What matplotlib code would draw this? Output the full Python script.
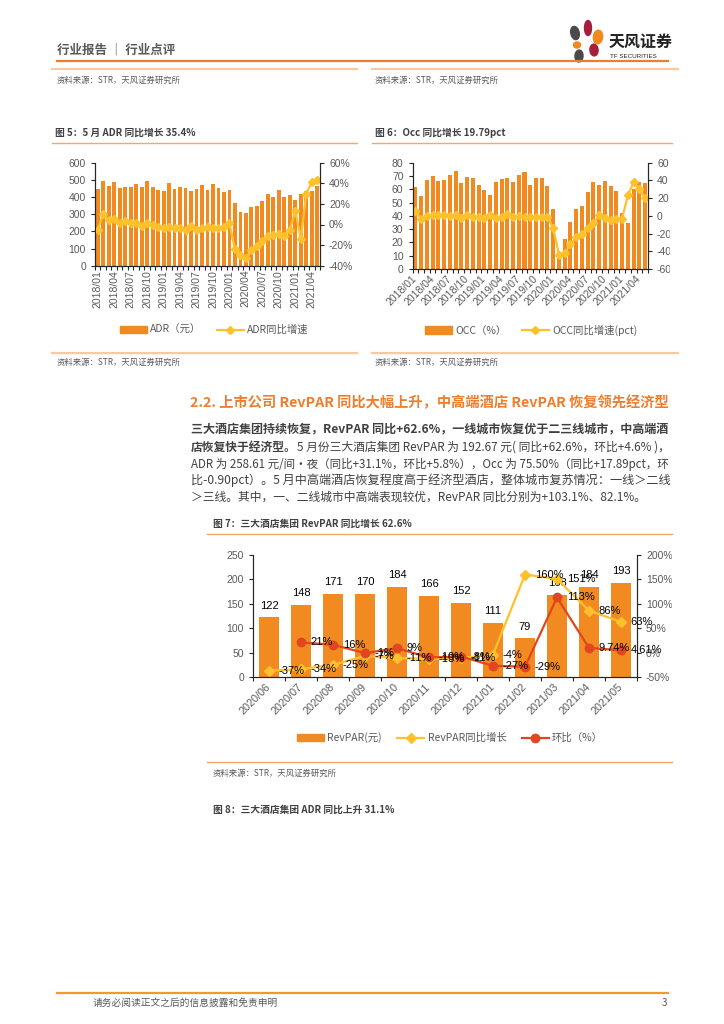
import matplotlib
matplotlib.use('Agg')
import matplotlib.pyplot as plt
import numpy as np
from matplotlib.lines import Line2D
from matplotlib.patches import Rectangle, Ellipse
from matplotlib.ticker import FuncFormatter

plt.rcParams['font.family'] = ['Noto Sans CJK SC', 'DejaVu Sans']
plt.rcParams['axes.unicode_minus'] = False

# ---------------- data ----------------
months = []
for yr in range(2018, 2022):
    for m in range(1, 13):
        if yr == 2021 and m > 5:
            break
        months.append(f'{yr}/{m:02d}')

adr = [447, 493, 464, 485, 454, 456, 456, 474, 456, 491, 460, 439, 435, 481, 447,
       458, 452, 437, 447, 468, 443, 478, 450, 429, 439, 365, 313, 307, 340, 348,
       377, 417, 400, 439, 402, 410, 381, 417, 435, 437, 462]
adr_yoy = [-5, 10, 4, 5, 1, 3, 1, 1.5, -1, 1, 0, -2, -3, -2, -3, -3.5, -5, -1, -5, -3,
           -2, -3, -3, -2, 1, -24, -30, -33, -25, -21, -16, -11, -10, -9, -11, -5,
           13, -14, 30, 41, 43]

occ = [61.7, 54.6, 67.2, 70.0, 66.4, 66.7, 71.0, 73.7, 64.7, 69.0, 68.4, 63.4, 59.1,
       55.6, 65.2, 67.4, 68.2, 65.2, 71.0, 73.2, 62.9, 68.4, 68.2, 62.7, 45.4, 11.0,
       22.6, 35.5, 44.9, 47.6, 57.6, 65.7, 63.2, 66.2, 62.7, 58.6, 42.4, 34.6, 60.5,
       65.2, 64.7]
occ_yoy = [5.5, -4, 0, 1, 0.5, 1, -0.5, 1.3, -2, 0.5, -1, -1, -2.5, 1.3, -2.5, -1, 1.7,
           -1.3, -0.5, -1, -1.3, -1, -1, -1, -14, -44, -42, -32, -24, -20, -14, -8,
           0.5, -2, -5, -4, -3, 23.5, 38, 30, 19.8]

rev_months = ['2020/06', '2020/07', '2020/08', '2020/09', '2020/10', '2020/11',
              '2020/12', '2021/01', '2021/02', '2021/03', '2021/04', '2021/05']
revpar = [122, 148, 171, 170, 184, 166, 152, 111, 79, 168, 184, 193]
revpar_yoy = [-37, -34, -25, -7, -11, -13, -11, -4, 160, 151, 86, 63]
revpar_mom = [np.nan, 21, 16, -1, 9, -10, -8, -27, -29, 113, 9.74, 4.61]

# ---------------- style ----------------
W, H = 724, 1024
ORANGE = '#F28A22'
YELLOW = '#FFC12B'
RED = '#E2461E'
GRAY = '#595959'
TXT = '#404040'
NUM = ['Liberation Sans', 'Noto Sans CJK SC']

fig = plt.figure(figsize=(7.24, 10.24), dpi=100)
renderer = fig.canvas.get_renderer()


def fx(x):
    return x / W


def fy(y):
    return 1 - y / H


def hline(y, x0, x1, color, lw=1.0):
    fig.add_artist(Line2D([fx(x0), fx(x1)], [fy(y), fy(y)], color=color, lw=lw))


def txt(x, y, s, **kw):
    kw.setdefault('va', 'center')
    kw.setdefault('color', TXT)
    return fig.text(fx(x), fy(y), s, **kw)


def px_width(t):
    return t.get_window_extent(renderer).width / fig.dpi / fig.get_figwidth() * W


def text_line(x0, y, parts, size, target=None):
    # parts: list of (string, weight); optionally scaled to fill target width
    items = [txt(x0, y, s, fontsize=size, fontweight=wt) for s, wt in parts]
    if target is not None:
        total = sum(px_width(t) for t in items)
        for t in items:
            t.set_fontsize(size * target / total)
    x = x0
    for t in items:
        t.set_x(fx(x))
        x += px_width(t)
    return items


def box(l, t, r, b):
    return [fx(l), fy(b), fx(r) - fx(l), fy(t) - fy(b)]


def style_axes(ax, axr):
    for a in (ax, axr):
        a.spines['top'].set_visible(False)
        for s in ('left', 'right', 'bottom'):
            a.spines[s].set_color('#262626')
            a.spines[s].set_linewidth(0.8)
        a.tick_params(colors=GRAY, labelsize=7.5, length=3, width=0.8)
        for lab in a.get_yticklabels():
            lab.set_family(NUM)
    ax.tick_params(axis='both', color='#262626')
    axr.tick_params(axis='y', color='#262626')


# ---------------- header ----------------
txt(57, 50, '行业报告 ｜ 行业点评', fontsize=9, fontweight='bold', color=GRAY)
hline(61, 57, 668, '#EE7D2C', 1.6)
for (cx, cy, w, h, ang, c) in [(575, 33, 8, 14, 35, '#4A4A4A'), (588, 28, 7, 15, 0, '#A71E3B'),
                               (598, 37, 9, 14, -35, '#F08A1C'), (577, 45, 7, 6, 0, '#F08A1C'),
                               (594, 50, 8, 12, 40, '#A71E3B'), (579, 56, 8, 12, -20, '#4A4A4A')]:
    fig.add_artist(Ellipse((fx(cx), fy(cy)), w / W, h / H, angle=ang, color=c,
                           transform=fig.transFigure))
txt(609, 42, '天风证券', fontsize=11.5, fontweight='bold', color='#222222')
txt(610, 56, 'TF SECURITIES', fontsize=4.5, color='#222222', family=NUM)

hline(69, 52, 357, '#F8C9A0', 1.6)
hline(69, 372, 678, '#F8C9A0', 1.6)
txt(57, 80, '资料来源：STR，天风证券研究所', fontsize=6, color=GRAY)
txt(375, 80, '资料来源：STR，天风证券研究所', fontsize=6, color=GRAY)

# ---------------- figure 5 ----------------
txt(55, 133, '图 5：5 月 ADR 同比增长 35.4%', fontsize=7, fontweight='bold')
hline(143, 52, 357, '#F4A868', 1.0)
ax1 = fig.add_axes(box(95, 162.7, 320, 265.7))
x1 = np.arange(len(months))
ax1.bar(x1, adr, width=0.7, color=ORANGE, zorder=2)
ax1.set_xlim(-0.5, len(months) - 0.5)
ax1.set_ylim(0, 600)
ax1.set_yticks(range(0, 601, 100))
ax1r = ax1.twinx()
ax1r.plot(x1, adr_yoy, color=YELLOW, marker='D', ms=4, lw=1.6)
ax1r.set_ylim(-40, 60)
ax1r.set_yticks(range(-40, 61, 20))
ax1r.yaxis.set_major_formatter(FuncFormatter(lambda v, p: f'{v:.0f}%'))
ax1.set_xticks(np.arange(len(months) + 1) - 0.5)
ax1.set_xticklabels([])
ax1.set_xticks(x1[::3], minor=True)
ax1.set_xticklabels(months[::3], minor=True, rotation=90, fontsize=7.5, color=GRAY, family=NUM)
ax1.tick_params(axis='x', which='minor', length=0, pad=3)
style_axes(ax1, ax1r)
fig.legend([Rectangle((0, 0), 1, 1, color=ORANGE),
            Line2D([], [], color=YELLOW, marker='D', ms=4, lw=1.6)],
           ['ADR（元）', 'ADR同比增速'], loc='center', bbox_to_anchor=(fx(214), fy(330)),
           ncol=2, frameon=False, fontsize=7.5, labelcolor=GRAY, handlelength=2.6,
           columnspacing=1.5, handletextpad=0.3)

# ---------------- figure 6 ----------------
txt(375, 133, '图 6：Occ 同比增长 19.79pct', fontsize=7, fontweight='bold')
hline(143, 372, 672, '#F4A868', 1.0)
ax2 = fig.add_axes(box(412.5, 162.7, 648, 269))
ax2.bar(x1, occ, width=0.7, color=ORANGE, zorder=2)
ax2.set_xlim(-0.5, len(months) - 0.5)
ax2.set_ylim(0, 80)
ax2.set_yticks(range(0, 81, 10))
ax2r = ax2.twinx()
ax2r.plot(x1, occ_yoy, color=YELLOW, marker='D', ms=4, lw=1.6)
ax2r.set_ylim(-60, 60)
ax2r.set_yticks(range(-60, 61, 20))
ax2.set_xticks(np.arange(len(months) + 1) - 0.5)
ax2.set_xticklabels([])
ax2.set_xticks(x1[::3], minor=True)
ax2.set_xticklabels(months[::3], minor=True, rotation=45, ha='right', va='center',
                    rotation_mode='anchor', fontsize=7.5, color=GRAY, family=NUM)
ax2.tick_params(axis='x', which='minor', length=0, pad=6)
style_axes(ax2, ax2r)
fig.legend([Rectangle((0, 0), 1, 1, color=ORANGE),
            Line2D([], [], color=YELLOW, marker='D', ms=4, lw=1.6)],
           ['OCC（%）', 'OCC同比增速(pct)'], loc='center', bbox_to_anchor=(fx(531), fy(330)),
           ncol=2, frameon=False, fontsize=7.5, labelcolor=GRAY, handlelength=2.6,
           columnspacing=1.5, handletextpad=0.3)
fig.add_artist(Rectangle((fx(670), fy(290)), 1 - fx(670), (290 - 150) / H, color='white',
                         transform=fig.transFigure, zorder=10))

hline(353, 52, 357, '#F8C9A0', 1.6)
hline(353, 372, 678, '#F8C9A0', 1.6)
txt(57, 362, '资料来源：STR，天风证券研究所', fontsize=6, color=GRAY)
txt(375, 362, '资料来源：STR，天风证券研究所', fontsize=6, color=GRAY)

# ---------------- section text ----------------
text_line(190, 403, [('2.2. 上市公司 RevPAR 同比大幅上升，中高端酒店 RevPAR 恢复领先经济型', 'bold')],
          10, target=478)
for t in fig.texts[-1:]:
    t.set_color('#EE7D2C')
PS = 8.5
LW = 477
text_line(191, 430, [('三大酒店集团持续恢复，RevPAR 同比+62.6%，一线城市恢复优于二三线城市，中高端酒', 'bold')],
          PS, target=LW)
text_line(191, 447, [('店恢复快于经济型。', 'bold'),
                     ('5 月份三大酒店集团 RevPAR 为 192.67 元( 同比+62.6%，环比+4.6% )，', 'normal')],
          PS, target=LW)
text_line(191, 464, [('ADR 为 258.61 元/间·夜（同比+31.1%，环比+5.8%），Occ 为 75.50%（同比+17.89pct，环', 'normal')],
          PS, target=LW)
text_line(191, 480, [('比-0.90pct）。5 月中高端酒店恢复程度高于经济型酒店，整体城市复苏情况：一线＞二线', 'normal')],
          PS, target=LW)
text_line(191, 497, [('＞三线。其中，一、二线城市中高端表现较优，RevPAR 同比分别为+103.1%、82.1%。', 'normal')],
          PS)

# ---------------- figure 7 ----------------
txt(213, 524, '图 7：三大酒店集团 RevPAR 同比增长 62.6%', fontsize=7, fontweight='bold')
hline(534, 207, 672, '#F4A868', 1.0)
ax3 = fig.add_axes(box(253, 555, 637, 677))
x3 = np.arange(len(rev_months))
ax3.bar(x3, revpar, width=0.62, color=ORANGE, zorder=2)
for xi, v in zip(x3, revpar):
    ax3.annotate(f'{v}', (xi, v), xytext=(0, 5), textcoords='offset points', ha='center',
                 va='bottom', fontsize=8, family=NUM, color='black')
ax3.set_xlim(-0.5, len(rev_months) - 0.5)
ax3.set_ylim(0, 250)
ax3.set_yticks(range(0, 251, 50))
ax3r = ax3.twinx()
ax3r.plot(x3, revpar_yoy, color=YELLOW, marker='D', ms=5, lw=1.6)
ax3r.plot(x3, revpar_mom, color=RED, marker='o', ms=6, lw=1.6)
for xi, v in zip(x3, revpar_yoy):
    ax3r.annotate(f'{v:.0f}%', (xi, v), xytext=(7, 0), textcoords='offset points', ha='left',
                  va='center', fontsize=8, family=NUM, color='black')
for xi, v in zip(x3, revpar_mom):
    if np.isnan(v):
        continue
    s = f'{v:.0f}%' if float(v).is_integer() else f'{v:.2f}%'
    ax3r.annotate(s, (xi, v), xytext=(7, 0), textcoords='offset points', ha='left',
                  va='center', fontsize=8, family=NUM, color='black')
ax3r.set_ylim(-50, 200)
ax3r.set_yticks(range(-50, 201, 50))
ax3r.yaxis.set_major_formatter(FuncFormatter(lambda v, p: f'{v:.0f}%'))
ax3.set_xticks(np.arange(len(rev_months) + 1) - 0.5)
ax3.set_xticklabels([])
ax3.set_xticks(x3, minor=True)
ax3.set_xticklabels(rev_months, minor=True, rotation=45, ha='right', va='center',
                    rotation_mode='anchor', fontsize=7.8, color=GRAY, family=NUM)
ax3.tick_params(axis='x', which='minor', length=0, pad=6)
style_axes(ax3, ax3r)
fig.legend([Rectangle((0, 0), 1, 1, color=ORANGE),
            Line2D([], [], color=YELLOW, marker='D', ms=5, lw=1.6),
            Line2D([], [], color=RED, marker='o', ms=6, lw=1.6)],
           ['RevPAR(元)', 'RevPAR同比增长', '环比（%）'], loc='center',
           bbox_to_anchor=(fx(450), fy(738)), ncol=3, frameon=False, fontsize=7.5,
           labelcolor=GRAY, handlelength=2.6, columnspacing=1.5, handletextpad=0.3)
fig.add_artist(Rectangle((fx(672), fy(690)), 1 - fx(672), (690 - 540) / H, color='white',
                         transform=fig.transFigure, zorder=10))

hline(762, 207, 672, '#F4A868', 1.0)
txt(213, 773, '资料来源：STR，天风证券研究所', fontsize=6, color=GRAY)
txt(213, 810, '图 8：三大酒店集团 ADR 同比上升 31.1%', fontsize=7, fontweight='bold')

# ---------------- footer ----------------
hline(993, 57, 668, '#EE9A2C', 1.6)
txt(93, 1003, '请务必阅读正文之后的信息披露和免责申明', fontsize=7, color=GRAY)
txt(662, 1003, '3', fontsize=7, color=GRAY)

fig.savefig('out.png', dpi=100)
